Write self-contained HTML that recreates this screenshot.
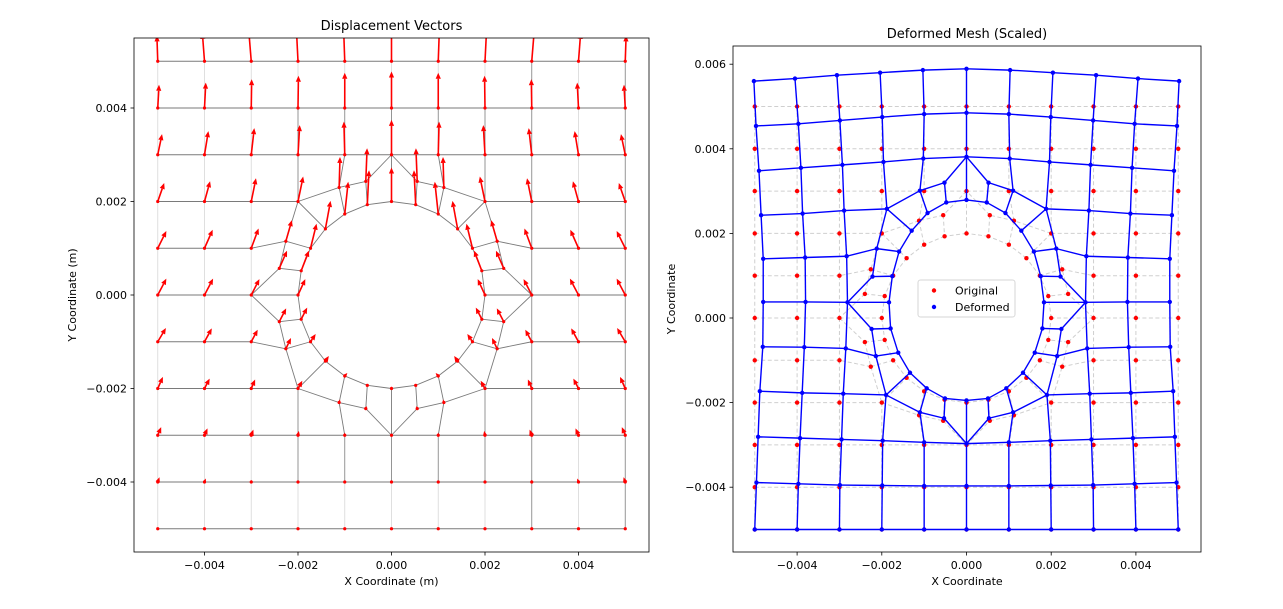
<!DOCTYPE html>
<html><head><meta charset="utf-8"><style>
html,body{margin:0;padding:0;background:#fff;}
svg{display:block;font-family:"DejaVu Sans","Liberation Sans",sans-serif;}
</style></head><body>
<svg id="fig" width="1283" height="609" viewBox="0 0 1283 609">
<defs>
<clipPath id="clipL"><rect x="134" y="38" width="515" height="514"/></clipPath>
<clipPath id="clipR"><rect x="733" y="46" width="468" height="506"/></clipPath>
</defs>
<rect x="0" y="0" width="1283" height="609" fill="#fff"/>
<g id="left"></g>
<g id="right"></g>
</svg>
<script>
// Grid displacement (scaled, x1e-3), rows y=0.005 .. -0.005, columns x=-0.005 .. 0 (left half, mirrored)
const ROW_Y = [5,4,3,2,1,0,-1,-2,-3,-4,-5];
const COL_X = [-5,-4,-3,-2,-1,0];
const UX_L = [
 [-0.02,-0.05,-0.06,-0.04,-0.03,0],
 [0.03,0.03,0.01,0.01,0,0],
 [0.10,0.09,0.07,0.04,-0.02,0],
 [0.15,0.13,0.11,0.12,null,null],
 [0.20,0.19,0.17,null,null,null],
 [0.20,0.20,0.19,null,null,null],
 [0.19,0.17,0.15,null,null,null],
 [0.12,0.12,0.09,0.10,null,null],
 [0.08,0.07,0.05,0.02,0,0],
 [0.04,0.03,0.01,0.01,0,0],
 [0,0,0,0,0,0]];
const UY_L = [
 [0.60,0.66,0.74,0.80,0.86,0.89],
 [0.54,0.59,0.67,0.75,0.82,0.85],
 [0.48,0.55,0.62,0.69,0.77,0.81],
 [0.43,0.47,0.54,0.58,null,null],
 [0.40,0.43,0.46,null,null,null],
 [0.38,0.38,0.37,null,null,null],
 [0.32,0.31,0.28,null,null,null],
 [0.27,0.23,0.21,0.18,null,null],
 [0.19,0.16,0.13,0.10,0.06,0.03],
 [0.11,0.08,0.05,0.04,0.03,0.03],
 [0,0,0,0,0,0]];
// Hole circle nodes (r=0.002), angles 90..270 step 15
const C_ANG = [90,105,120,135,150,165,180,195,210,225,240,255,270];
const C_UX = [0,0.04,0.08,0.12,0.14,0.18,0.17,0.14,0.12,0.08,0.06,0.01,0];
const C_UY = [0.79,0.80,0.75,0.65,0.57,0.47,0.37,0.27,0.18,0.12,0.07,0.03,0.05];
// Middle ring nodes, angles 105,120,150,165,195,210,240,255
const M_X0 = [-0.55,-1.12,-2.26,-2.40,-2.40,-2.26,-1.12,-0.55];
const M_Y0 = [2.43,2.30,1.15,0.57,-0.57,-1.15,-2.30,-2.43];
const M_UX = [0.03,0.02,0.14,0.18,0.16,0.12,0.02,0.02];
const M_UY = [0.77,0.71,0.49,0.41,0.31,0.25,0.07,0.06];
const TICKS_LX = [-4,-2,0,2,4];
const TICKS_LY = [-4,-2,0,2,4];
const TICKS_RX = [-4,-2,0,2,4];
const TICKS_RY = [-4,-2,0,2,4,6];

const NS='http://www.w3.org/2000/svg';
function mk(tag,attrs,parent){const e=document.createElementNS(NS,tag);for(const k in attrs)e.setAttribute(k,attrs[k]);parent.appendChild(e);return e;}
// axis functions
const Lx=v=>391.5+46.75*v, Ly=v=>295-46.75*v;
const Rx=v=>966.5+42.35*v, Ry=v=>318-42.3*v;

// ---- build mesh
const nodes={}; const edges=[];
function add(id,x0,y0,ux,uy){nodes[id]={x0,y0,ux,uy};}
function gid(i,j){return 'g'+i+'_'+j;}
for(let r=0;r<ROW_Y.length;r++){const j=ROW_Y[r];
 for(let i=-5;i<=5;i++){const c=COL_X.indexOf(-Math.abs(i));
  const ux=UX_L[r][c]; if(ux===null)continue;
  add(gid(i,j),i,j,i>0?-ux:ux,UY_L[r][c]);}}
function cIdx(k){let a=k*15; if(a<90||a>270){a=(180-a+360)%360;return {i:C_ANG.indexOf(a),m:true};} return {i:C_ANG.indexOf(a),m:false};}
for(let k=0;k<24;k++){const q=cIdx(k);const a=k*15*Math.PI/180;
 const ux=C_UX[q.i];add('c'+k,2*Math.cos(a),2*Math.sin(a),q.m?-ux:ux,C_UY[q.i]);}
const M_ANG=[105,120,150,165,195,210,240,255];
const ringO={0:gid(3,0),3:gid(2,2),6:gid(0,3),9:gid(-2,2),12:gid(-3,0),15:gid(-2,-2),18:gid(0,-3),21:gid(2,-2)};
const mOut={8:gid(-1,3),10:gid(-3,1),14:gid(-3,-1),16:gid(-1,-3),4:gid(1,3),2:gid(3,1),22:gid(3,-1),20:gid(1,-3)};
function rid(k){return ringO[k]!==undefined?ringO[k]:'m'+k;}
for(let k=0;k<24;k++){if(k%3===0)continue;let a=k*15,mir=false;if(a<90||a>270){a=(180-a+360)%360;mir=true;}
 const i=M_ANG.indexOf(a);add('m'+k,mir?-M_X0[i]:M_X0[i],M_Y0[i],mir?-M_UX[i]:M_UX[i],M_UY[i]);}
for(const id in nodes){if(id[0]!=='g')continue;const n=nodes[id];
 if(nodes[gid(n.x0+1,n.y0)])edges.push([id,gid(n.x0+1,n.y0)]);
 if(nodes[gid(n.x0,n.y0-1)])edges.push([id,gid(n.x0,n.y0-1)]);}
for(let k=0;k<24;k++){const k2=(k+1)%24;
 edges.push([rid(k),rid(k2)]);edges.push(['c'+k,'c'+k2]);edges.push([rid(k),'c'+k]);
 if(mOut[k])edges.push(['m'+k,mOut[k]]);}

// ---- common axes drawing
function axes(g,x0,y0,w,h,fx,fy,tx,ty,title,xl,yl,titleY){
 for(const t of tx){const x=fx(t);
  const tk=mk('line',{x1:x,y1:y0+h,x2:x,y2:y0+h+3.5,stroke:'#000','stroke-width':0.8},g);
  
  const lb=mk('text',{x:x,y:y0+h+17,'font-size':11,'text-anchor':'middle'},g);lb.textContent=t===0?'0.000':(t<0?'\u2212':'')+'0.00'+Math.abs(t);
  }
 for(const t of ty){const y=fy(t);
  const tk=mk('line',{x1:x0-3.5,y1:y,x2:x0,y2:y,stroke:'#000','stroke-width':0.8},g);
  
  const lb=mk('text',{x:x0-7,y:y+4,'font-size':11,'text-anchor':'end'},g);lb.textContent=t===0?'0.000':(t<0?'\u2212':'')+'0.00'+Math.abs(t);
  }
 const fr=mk('rect',{x:x0,y:y0,width:w,height:h,fill:'none',stroke:'#000','stroke-width':0.8},g);
 
 const ti=mk('text',{x:x0+w/2,y:titleY,'font-size':13,'text-anchor':'middle'},g);ti.textContent=title;
 
 const xa=mk('text',{x:x0+w/2,y:y0+h+33,'font-size':11,'text-anchor':'middle'},g);xa.textContent=xl;
 
 const cy=y0+h/2, cx=x0-58;
 const ya=mk('text',{x:cx,y:cy,'font-size':11,'text-anchor':'middle',transform:'rotate(-90 '+cx+' '+cy+')'},g);ya.textContent=yl;
 
}

// ---- left panel
const L=document.getElementById('left');
const Lc=mk('g',{'clip-path':'url(#clipL)'},L);
for(const [a,b] of edges){const A=nodes[a],B=nodes[b];
 const vert=(a[0]==='g'&&b[0]==='g'&&A.x0===B.x0);
 const col=vert?(A.x0===3||A.x0===5||Math.abs(A.x0)<3&&Math.min(Math.abs(A.y0),Math.abs(B.y0))<3.5&&Math.abs(A.y0)>=2?'#8a8a8a':'#dcdcdc'):'#7a7a7a';
 const ln=mk('line',{x1:Lx(A.x0),y1:Ly(A.y0),x2:Lx(B.x0),y2:Ly(B.y0),stroke:col,'stroke-width':0.9},Lc);
 }
const S=43;
for(const id in nodes){const n=nodes[id];const x=Lx(n.x0),y=Ly(n.y0);
 const d=mk('circle',{cx:x,cy:y,r:1.6,fill:'#ff0000'},Lc);
 
 const dx=S*n.ux,dy=-S*n.uy,len=Math.hypot(dx,dy);if(len<1.5)continue;
 const ux=dx/len,uy=dy/len,hl=Math.min(6,len),hw=Math.min(2.6,len*0.45);
 const bx=x+dx-ux*hl,by=y+dy-uy*hl;
 const sh=mk('line',{x1:x,y1:y,x2:bx,y2:by,stroke:'#ff0000','stroke-width':1.6},Lc);
 
 const hd=mk('polygon',{points:[(x+dx)+','+(y+dy),(bx-uy*hw)+','+(by+ux*hw),(bx+uy*hw)+','+(by-ux*hw)].join(' '),fill:'#ff0000'},Lc);
 }
axes(L,134,38,515,514,Lx,Ly,TICKS_LX,TICKS_LY,'Displacement Vectors','X Coordinate (m)','Y Coordinate (m)',30);

// ---- right panel
const R=document.getElementById('right');
const Rc=mk('g',{'clip-path':'url(#clipR)'},R);
for(const [a,b] of edges){const A=nodes[a],B=nodes[b];
 const ln=mk('line',{x1:Rx(A.x0),y1:Ry(A.y0),x2:Rx(B.x0),y2:Ry(B.y0),stroke:'#cfcfcf','stroke-width':1,'stroke-dasharray':'4,2.5'},Rc);
 }
for(const id in nodes){const n=nodes[id];
 const d=mk('circle',{cx:Rx(n.x0),cy:Ry(n.y0),r:2.2,fill:'#ff0000'},Rc);
 }
for(const [a,b] of edges){const A=nodes[a],B=nodes[b];
 const ln=mk('line',{x1:Rx(A.x0+A.ux),y1:Ry(A.y0+A.uy),x2:Rx(B.x0+B.ux),y2:Ry(B.y0+B.uy),stroke:'#0000ff','stroke-width':1.4},Rc);
 }
for(const id in nodes){const n=nodes[id];
 const d=mk('circle',{cx:Rx(n.x0+n.ux),cy:Ry(n.y0+n.uy),r:2.2,fill:'#0000ff'},Rc);
 }
axes(R,733,46,468,506,Rx,Ry,TICKS_RX,TICKS_RY,'Deformed Mesh (Scaled)','X Coordinate','Y Coordinate',38);
// legend
const lg=mk('g',{},R);

mk('rect',{x:918,y:280,width:97,height:37,rx:2.5,fill:'#fff','fill-opacity':0.85,stroke:'#d6d6d6','stroke-width':1},lg);
mk('circle',{cx:934,cy:290.5,r:2.2,fill:'#ff0000'},lg);
mk('circle',{cx:934,cy:307,r:2.2,fill:'#0000ff'},lg);
const t1=mk('text',{x:955,y:294.5,'font-size':11},lg);t1.textContent='Original';

const t2=mk('text',{x:955,y:311,'font-size':11},lg);t2.textContent='Deformed';

</script>
</body></html>
